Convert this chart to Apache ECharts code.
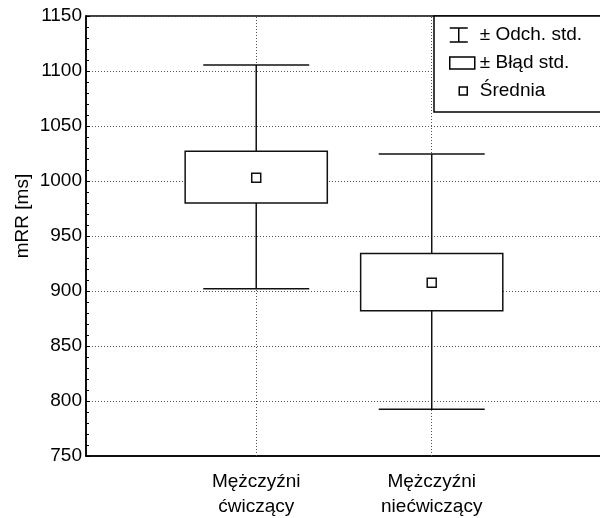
<!DOCTYPE html>
<html>
<head>
<meta charset="utf-8">
<script src="https://cdn.jsdelivr.net/npm/echarts@6/dist/echarts.min.js"></script>
<style>html,body{margin:0;padding:0;background:#fff;}#c{width:600px;height:518px;}</style>
</head>
<body>
<div id="c"></div>
<script>
// ---- data ----
const categories = ['Mężczyźni\nćwiczący', 'Mężczyźni\nniećwiczący'];
const means = [1003, 907.5];
const seLow = [980, 882];
const seHigh = [1027, 934];
const sdLow = [902, 792.5];
const sdHigh = [1105.5, 1024.5];
const yTicks = [750, 800, 850, 900, 950, 1000, 1050, 1100, 1150];
const legendNames = ['± Odch. std.', '± Błąd std.', 'Średnia'];

const FONT = "'Liberation Sans', Arial, sans-serif";
const FS = 19;
const BOX_HALF = 0.405;
const CAP_HALF = 0.302;

const chart = echarts.init(document.getElementById('c'), null, {renderer: 'canvas'});
const pos = categories.map((c, i) => i + 1);

const dotted = {color: '#555', width: 1, type: [1, 2]};

chart.setOption({
  animation: false,
  textStyle: {fontFamily: FONT},
  grid: {left: 86, top: 16, bottom: 62, right: -3, outerBoundsMode: 'none', containLabel: false,
    show: true, borderColor: '#000', borderWidth: 1.5, backgroundColor: '#fff'},
  xAxis: {
    type: 'value', min: 0.03, max: 2.976,
    axisLine: {show: true, lineStyle: {color: '#000', width: 1.5}},
    axisTick: {show: false},
    splitLine: {show: false},
    axisLabel: {
      customValues: pos,
      formatter: v => categories[Math.round(v) - 1] || '',
      fontFamily: FONT, fontSize: FS, color: '#000', lineHeight: 25, margin: 13
    }
  },
  yAxis: {
    type: 'value', min: yTicks[0], max: yTicks[yTicks.length - 1], interval: 50,
    name: 'mRR [ms]', nameLocation: 'middle', nameGap: 54, nameMoveOverlap: false,
    nameTextStyle: {fontFamily: FONT, fontSize: FS, color: '#000', padding: [0, 0, 0, 40]},
    axisLine: {show: true, lineStyle: {color: '#000', width: 1.5}},
    axisTick: {show: true, inside: true, length: 4, lineStyle: {color: '#000'}},
    minorTick: {show: true, splitNumber: 5, length: 3, lineStyle: {color: '#000'}},
    axisLabel: {fontFamily: FONT, fontSize: FS, color: '#000', margin: 4, formatter: v => String(v)},
    splitLine: {show: true, lineStyle: dotted}
  },
  legend: {
    orient: 'vertical', left: 434, top: 16,
    backgroundColor: '#fff', borderColor: '#000', borderWidth: 1.5,
    padding: [9, 60, 11, 14], itemGap: 8, itemWidth: 26, itemHeight: 16, itemTextGap: 16,
    selectedMode: false,
    textStyle: {fontFamily: FONT, fontSize: FS, color: '#000', lineHeight: 20},
    itemStyle: {color: '#fff', borderColor: '#000', borderWidth: 1.5},
    data: [
      {name: legendNames[0], icon: 'path://M0,0M26,16M1,1H19M10,1V15M1,15H19'},
      {name: legendNames[1], icon: 'path://M0,0M26,16M1,2H26V14H1Z'},
      {name: legendNames[2], icon: 'path://M0,0M26,16M10.5,4H18.5V12H10.5Z'}
    ]
  },
  series: [
    {
      name: '_grid', type: 'scatter', z: 1, silent: true,
      data: [],
      markLine: {
        z: 1, silent: true, symbol: 'none', label: {show: false},
        lineStyle: dotted,
        data: pos.map(x => ({xAxis: x}))
      }
    },
    {
      name: legendNames[0], type: 'custom', z: 2,
      data: pos.map((x, i) => [x, sdLow[i], sdHigh[i]]),
      encode: {x: 0, y: [1, 2]},
      renderItem: (params, api) => {
        const x = api.value(0);
        const lo = api.coord([x, api.value(1)]);
        const hi = api.coord([x, api.value(2)]);
        const half = api.size([CAP_HALF, 0])[0];
        const st = {stroke: '#111', lineWidth: 1.5};
        return {type: 'group', children: [
          {type: 'line', shape: {x1: lo[0], y1: lo[1], x2: hi[0], y2: hi[1]}, style: st},
          {type: 'line', shape: {x1: hi[0] - half, y1: hi[1], x2: hi[0] + half, y2: hi[1]}, style: st},
          {type: 'line', shape: {x1: lo[0] - half, y1: lo[1], x2: lo[0] + half, y2: lo[1]}, style: st}
        ]};
      }
    },
    {
      name: legendNames[1], type: 'custom', z: 3,
      data: pos.map((x, i) => [x, seLow[i], seHigh[i]]),
      encode: {x: 0, y: [1, 2]},
      renderItem: (params, api) => {
        const x = api.value(0);
        const lo = api.coord([x, api.value(1)]);
        const hi = api.coord([x, api.value(2)]);
        const half = api.size([BOX_HALF, 0])[0];
        return {type: 'rect', shape: {x: lo[0] - half, y: hi[1], width: 2 * half, height: lo[1] - hi[1]},
          style: {fill: '#fff', stroke: '#111', lineWidth: 1.5}};
      }
    },
    {
      name: legendNames[2], type: 'scatter', z: 4,
      symbol: 'rect', symbolSize: 9,
      itemStyle: {color: '#fff', borderColor: '#111', borderWidth: 1.5, opacity: 1},
      data: pos.map((x, i) => [x, means[i]])
    }
  ]
});
</script>
</body>
</html>
